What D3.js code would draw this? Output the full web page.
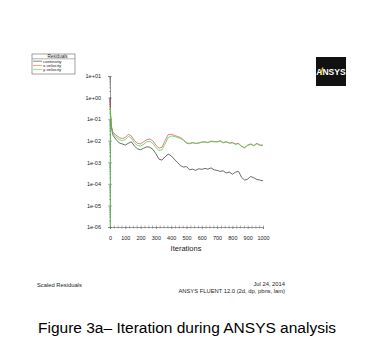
<!DOCTYPE html>
<html><head><meta charset="utf-8">
<script src="https://cdn.jsdelivr.net/npm/d3@7"></script>
<style>body{margin:0;background:#fff}svg{display:block}text{font-family:"Liberation Sans",Arial,sans-serif}</style>
</head><body>
<script>
const iterations = [1,2,4,7,10,15,20,40,60,80,100,120,140,160,180,200,220,240,260,280,300,320,340,360,380,400,420,440,460,480,500,520,540,560,580,600,620,640,660,680,700,720,740,760,780,800,820,840,860,880,900,920,940,960,980,1000];
const continuity = [1.0,0.4,0.126,0.063,0.04,0.025,0.0178,0.0112,0.0079,0.0071,0.0063,0.0076,0.0089,0.0056,0.0042,0.0038,0.0045,0.0052,0.005,0.004,0.0025,0.0014,0.00126,0.0018,0.0024,0.002,0.0014,0.001,0.0007,0.0006,0.00063,0.00045,0.00048,0.00042,0.0005,0.00047,0.00052,0.00048,0.00055,0.00045,0.00042,0.00038,0.0004,0.00032,0.00035,0.00028,0.00035,0.00038,0.0002,0.00015,0.000166,0.00022,0.00019,0.00016,0.00015,0.000138];
const xVelocity = [0.79,0.5,0.16,0.079,0.045,0.032,0.025,0.018,0.014,0.0126,0.014,0.02,0.0166,0.01,0.0076,0.0071,0.0089,0.0112,0.012,0.01,0.0063,0.0045,0.005,0.01,0.019,0.02,0.0178,0.0158,0.0141,0.0112,0.0079,0.0076,0.0083,0.0076,0.0079,0.0087,0.0089,0.0083,0.0095,0.0093,0.0089,0.01,0.0083,0.0091,0.0079,0.0083,0.0071,0.0076,0.0056,0.0048,0.0063,0.0071,0.006,0.0076,0.0063,0.0063];
const yVelocity = [1e-6,0.32,0.126,0.063,0.04,0.028,0.022,0.015,0.0112,0.01,0.0112,0.0158,0.0132,0.0079,0.006,0.0056,0.0068,0.0089,0.0093,0.0076,0.0048,0.0035,0.0038,0.0071,0.0141,0.0166,0.0158,0.0141,0.0126,0.0105,0.0076,0.0072,0.0079,0.0074,0.0076,0.0085,0.0085,0.0081,0.0091,0.0089,0.0087,0.0095,0.0079,0.0087,0.0076,0.0079,0.0068,0.0072,0.0054,0.0046,0.006,0.0068,0.0058,0.0072,0.006,0.0059];
const seriesNames = ["continuity","x-velocity","y-velocity"];
const seriesColors = ["#3a3a3a","#e0505a","#44d044"];
const yTickValues = [1e-6,1e-5,1e-4,1e-3,1e-2,1e-1,1e0,1e1];
const yTickLabels = ["1e-06","1e-05","1e-04","1e-03","1e-02","1e-01","1e+00","1e+01"];
const xTickValues = [0,100,200,300,400,500,600,700,800,900,1000];

const W = 371, H = 353;
const svg = d3.select("body").append("svg").attr("width", W).attr("height", H);
svg.append("rect").attr("width", W).attr("height", H).attr("fill", "#fff");

const x = d3.scaleLinear().domain([0, 1000]).range([110, 263]);
const y = d3.scaleLog().domain([1e-6, 10]).range([227, 76]);

const yMinor = [];
yTickValues.slice(0, -1).forEach(d => { for (let k = 2; k < 10; k++) yMinor.push(d * k); });
const xMinor = d3.range(0, 1001, 25);

const gY = svg.append("g").attr("transform", "translate(110,0)");
gY.call(d3.axisLeft(y).tickValues(yTickValues).tickFormat((d, i) => yTickLabels[i]).tickSize(2).tickPadding(7));
gY.append("g").call(d3.axisRight(y).tickValues(yTickValues).tickFormat("").tickSize(2)).select(".domain").remove();
gY.append("g").call(d3.axisLeft(y).tickValues(yMinor).tickFormat("").tickSize(1)).select(".domain").remove();
gY.append("g").call(d3.axisRight(y).tickValues(yMinor).tickFormat("").tickSize(1)).select(".domain").remove();

const gX = svg.append("g").attr("transform", "translate(0,227)");
gX.call(d3.axisBottom(x).tickValues(xTickValues).tickFormat(d3.format("d")).tickSize(2).tickPadding(7));
gX.append("g").call(d3.axisTop(x).tickValues(xMinor).tickFormat("").tickSize(1.5)).select(".domain").remove();
gX.append("g").call(d3.axisBottom(x).tickValues(xMinor).tickFormat("").tickSize(1.5)).select(".domain").remove();

svg.selectAll(".domain").attr("stroke", "#555").attr("stroke-width", 0.6);
svg.selectAll(".tick line").attr("stroke", "#666").attr("stroke-width", 0.5);
svg.selectAll(".tick text").attr("font-size", 5.5).attr("fill", "#222").attr("font-family", "Liberation Sans, Arial, sans-serif");
gX.selectAll(".tick text").attr("dy", "0.71em");

svg.append("text").attr("x", 186).attr("y", 251).attr("text-anchor", "middle")
  .attr("font-size", 7.5).attr("fill", "#222222").style("fill", "#222222").text("Iterations");

const line = d3.line().x((d, i) => x(iterations[i])).y(d => y(d));
[continuity, xVelocity, yVelocity].forEach((s, k) => {
  svg.append("path").attr("d", line(s)).attr("fill", "none")
    .attr("stroke", seriesColors[k]).attr("stroke-width", 0.75).attr("stroke-linejoin", "round");
});

// legend
const lg = svg.append("g");
lg.append("rect").attr("x", 32).attr("y", 54).attr("width", 43).attr("height", 20)
  .attr("fill", "#fff").attr("stroke", "#444").attr("stroke-width", 0.5);
lg.append("line").attr("x1", 32).attr("x2", 75).attr("y1", 58.8).attr("y2", 58.8).attr("stroke", "#444").attr("stroke-width", 0.4);
lg.append("text").attr("x", 57.5).attr("y", 58).attr("text-anchor", "middle").attr("font-size", 4.6).attr("fill", "#222").text("Residuals");
seriesNames.forEach((n, k) => {
  const yy = 62.6 + k * 4.2;
  lg.append("line").attr("x1", 33).attr("x2", 42).attr("y1", yy - 1.4).attr("y2", yy - 1.4)
    .attr("stroke", seriesColors[k]).attr("stroke-width", 0.6);
  lg.append("text").attr("x", 43).attr("y", yy).attr("font-size", 4.4).attr("fill", "#222").text(n);
});

// logo
const logo = svg.append("g");
logo.append("rect").attr("x", 316).attr("y", 57).attr("width", 30).attr("height", 29).attr("fill", "#111");
logo.append("text").attr("x", 331).attr("y", 75).attr("text-anchor", "middle")
  .attr("font-size", 8.5).attr("font-weight", "bold").attr("fill", "#fff").text("ANSYS");
logo.append("polygon").attr("points", "320,75 322,67.5 323.5,67.5 321.5,75").attr("fill", "#f2c200");

// footer
svg.append("text").attr("x", 37).attr("y", 287).attr("font-size", 5.8).attr("fill", "#222").text("Scaled Residuals");
svg.append("text").attr("x", 285).attr("y", 286).attr("text-anchor", "end").attr("font-size", 5.8).attr("fill", "#222").text("Jul 24, 2014");
svg.append("text").attr("x", 285).attr("y", 292.5).attr("text-anchor", "end").attr("font-size", 5.8).attr("fill", "#222").text("ANSYS FLUENT 12.0 (2d, dp, pbns, lam)");

svg.append("text").attr("x", 38).attr("y", 333).attr("font-size", 15.5).attr("fill", "#000")
  .text("Figure 3a– Iteration during ANSYS analysis");
</script>
</body></html>
